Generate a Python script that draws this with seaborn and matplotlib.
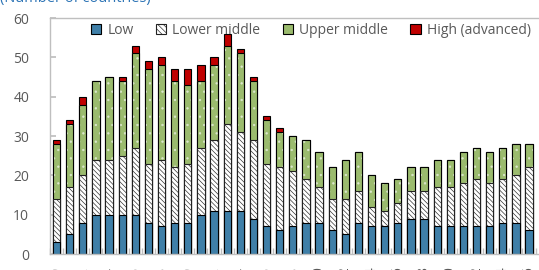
import matplotlib
matplotlib.use("Agg")
import matplotlib.pyplot as plt
from matplotlib.patches import Patch
import numpy as np
import pandas as pd
import seaborn as sns

# Number of countries by income group
years = [str(y) for y in range(1980, 2017)]
low = [3, 5, 8, 10, 10, 10, 10, 8, 7, 8, 8, 10, 11, 11, 11, 9, 7, 6, 7, 8,
       8, 6, 5, 8, 7, 7, 8, 9, 9, 7, 7, 7, 7, 7, 8, 8, 6]
lower_middle = [11, 12, 12, 14, 14, 15, 17, 15, 17, 14, 15, 17, 18, 22, 20, 20, 16, 16, 14, 11,
                9, 8, 9, 8, 5, 4, 5, 7, 7, 10, 10, 11, 12, 11, 11, 12, 16]
upper_middle = [14, 16, 18, 20, 21, 19, 24, 24, 24, 22, 20, 17, 19, 20, 20, 15, 11, 9, 9, 10,
                9, 8, 10, 10, 8, 7, 6, 6, 6, 7, 7, 8, 8, 8, 8, 8, 6]
high = [1, 1, 2, 0, 0, 1, 2, 2, 2, 3, 4, 4, 2, 3, 1, 1, 1, 1, 0, 0,
        0, 0, 0, 0, 0, 0, 0, 0, 0, 0, 0, 0, 0, 0, 0, 0, 0]

df = pd.DataFrame({"year": years, "Low": low, "Lower middle": lower_middle,
                   "Upper middle": upper_middle, "High (advanced)": high})
df["c_low"] = df["Low"]
df["c_lm"] = df["c_low"] + df["Lower middle"]
df["c_um"] = df["c_lm"] + df["Upper middle"]
df["c_hi"] = df["c_um"] + df["High (advanced)"]

sns.set_theme(style="white")
plt.rcParams["font.family"] = ["Open Sans", "DejaVu Sans"]
plt.rcParams["hatch.linewidth"] = 0.45

c_low = "#3F7FA8"
c_um = "#9BBB6E"
c_hi = "#C00000"
gray = "#595959"
w = 0.55

fig = plt.figure(figsize=(5.39, 2.70), dpi=100)
ax = fig.add_axes([50 / 539, 16 / 270, 489 / 539, 236 / 270])

# stacked bars drawn as overlapping cumulative totals
sns.barplot(data=df, x="year", y="c_hi", color=c_hi, saturation=1, width=w,
            edgecolor="black", linewidth=0.8, ax=ax)
sns.barplot(data=df, x="year", y="c_um", color=c_um, saturation=1, width=w,
            edgecolor="#DDE8CF", linewidth=0, hatch="..", ax=ax)
sns.barplot(data=df, x="year", y="c_um", color="black", fill=False, width=w,
            linewidth=0.8, ax=ax)
sns.barplot(data=df, x="year", y="c_lm", color="white", saturation=1, width=w,
            edgecolor="#222222", linewidth=0.8, hatch="\\\\\\\\\\\\\\", ax=ax)
sns.barplot(data=df, x="year", y="c_low", color=c_low, saturation=1, width=w,
            edgecolor="black", linewidth=0.8, ax=ax)

ax.set_xlim(-0.46, 36.76)
ax.set_ylim(0, 60)
ax.set_yticks(range(0, 61, 10))
ax.set_xticks(range(0, len(years), 2))
ax.set_xticklabels(years[::2], rotation=90)
ax.set_xticks(np.arange(-0.5, len(years), 1), minor=True)
ax.set_xlabel("")
ax.set_ylabel("")
ax.tick_params(axis="x", which="major", length=0, pad=9, labelsize=10, labelcolor=gray)
ax.tick_params(axis="x", which="minor", length=4, direction="in", color="#BFBFBF", bottom=True)
ax.tick_params(axis="y", length=4, direction="in", color="#BFBFBF", left=True,
               labelsize=10, labelcolor=gray, pad=15)
for side in ["left", "bottom", "top"]:
    ax.spines[side].set_color("#BFBFBF")
    ax.spines[side].set_linewidth(1)
ax.spines["right"].set_visible(False)

handles = [Patch(facecolor=c_low, edgecolor="black", linewidth=0.8),
           Patch(facecolor="white", edgecolor="#222222", linewidth=0.8, hatch="\\\\\\\\\\\\"),
           Patch(facecolor=c_um, edgecolor="black", linewidth=0.8),
           Patch(facecolor=c_hi, edgecolor="black", linewidth=0.8)]
labels = ["Low", "Lower middle", "Upper middle", "High (advanced)"]
fig.legend(handles, labels, loc="center left", bbox_to_anchor=(78 / 539, 1 - 30 / 270),
           ncol=4, frameon=False, fontsize=10, handlelength=0.75, handleheight=0.75,
           handletextpad=0.45, columnspacing=1.6, labelcolor=gray)

fig.text(0.0, 1 - 2 / 270, "(Number of countries)", color="#2E75B6", fontsize=10.5,
         ha="left", va="baseline")

fig.savefig("out.png", dpi=100)
